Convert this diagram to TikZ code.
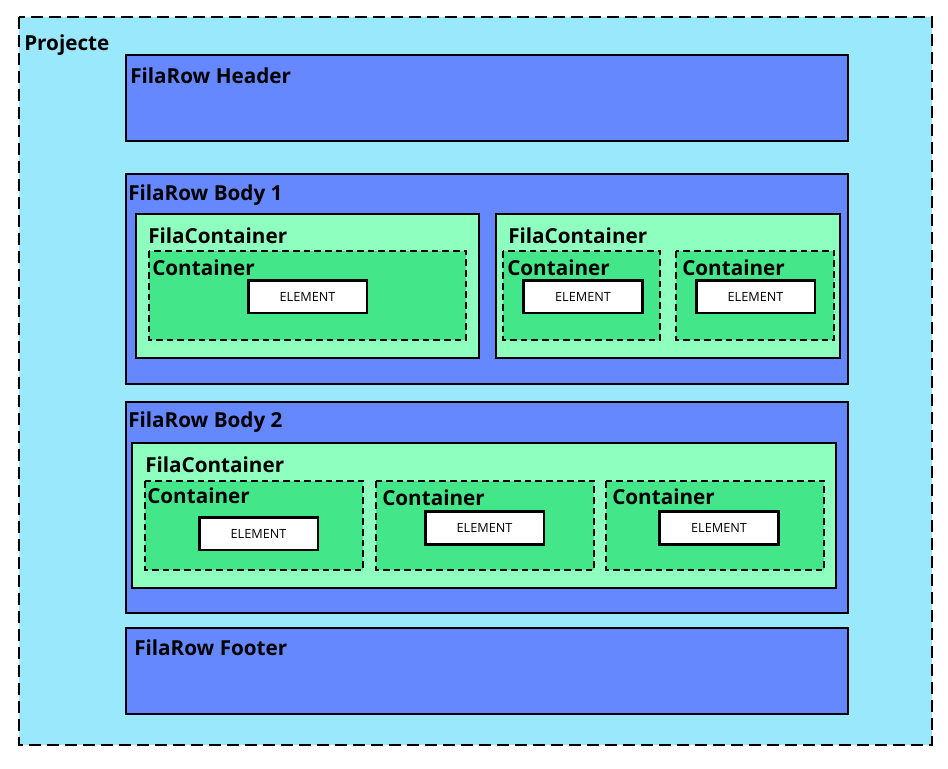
\documentclass[tikz,border=0pt]{standalone}
\usepackage{fontspec}
\setmainfont{Open Sans}
\definecolor{projCyan}{HTML}{99E8FC}
\definecolor{rowBlue}{HTML}{6688FF}
\definecolor{filaGreen}{HTML}{8FFFBF}
\definecolor{contGreen}{HTML}{44E68A}
\newcommand{\rowLeft}{126}
\newcommand{\rowRight}{848}
\newcommand{\boxTitleSty}[1]{\fontsize{15.5}{18}\selectfont\bfseries #1}
\newcommand{\elemText}{\fontsize{9.5}{11}\selectfont ELEMENT}
\tikzset{
  projBox/.style={draw, line width=1.9pt, fill=projCyan, dash pattern=on 9pt off 4.5pt},
  rowBox/.style={draw, line width=2.2pt, fill=rowBlue},
  filaBox/.style={draw, line width=2.2pt, fill=filaGreen},
  contBox/.style={draw, line width=2pt, fill=contGreen, dash pattern=on 5pt off 3pt},
  elemBox/.style={draw, line width=2pt, fill=white, minimum width=89pt, minimum height=24.5pt, inner sep=0pt},
  boxTitle/.style={anchor=base west, inner sep=0pt}
}
\begin{document}
\begin{tikzpicture}[x=0.75pt,y=-0.75pt]
	\useasboundingbox (0,0) rectangle (948,768);

	% project
	\draw[projBox] (19,17) rectangle (932,745);
	\node[boxTitle] (projLbl) at (24,50) {\boxTitleSty{Projecte}};

	% header
	\draw[rowBox] (\rowLeft,55) rectangle (\rowRight,141);
	\node[boxTitle] (headerLbl) at (130,83) {\boxTitleSty{FilaRow Header}};

	% body 1
	\draw[rowBox] (\rowLeft,174) rectangle (\rowRight,384);
	\node[boxTitle] (bodyOneLbl) at (128,200) {\boxTitleSty{FilaRow Body 1}};

	% body 1 - left fila
	\draw[filaBox] (136,214) rectangle (479,358);
	\node[boxTitle] (filaOneLbl) at (148,243) {\boxTitleSty{FilaContainer}};
	\draw[contBox] (149,251) rectangle (466,340);
	\node[boxTitle] (contOneLbl) at (152,275) {\boxTitleSty{Container}};
	\node[elemBox] (elemOne) at (307.5,296.5) {\elemText};

	% body 1 - right fila
	\draw[filaBox] (496,214) rectangle (840,358);
	\node[boxTitle] (filaTwoLbl) at (508,243) {\boxTitleSty{FilaContainer}};
	\draw[contBox] (503,251) rectangle (660,340);
	\node[boxTitle] (contTwoLbl) at (507,275) {\boxTitleSty{Container}};
	\node[elemBox] (elemTwo) at (583,296.5) {\elemText};
	\draw[contBox] (676,251) rectangle (834,340);
	\node[boxTitle] (contThreeLbl) at (682,275) {\boxTitleSty{Container}};
	\node[elemBox] (elemThree) at (755.5,296.5) {\elemText};

	% body 2
	\draw[rowBox] (\rowLeft,402) rectangle (\rowRight,613);
	\node[boxTitle] (bodyTwoLbl) at (128,427) {\boxTitleSty{FilaRow Body 2}};

	% body 2 - fila
	\draw[filaBox] (132,443) rectangle (836,588);
	\node[boxTitle] (filaThreeLbl) at (145,472) {\boxTitleSty{FilaContainer}};
	\draw[contBox] (145,481) rectangle (363,570);
	\node[boxTitle] (contFourLbl) at (147,503) {\boxTitleSty{Container}};
	\node[elemBox] (elemFour) at (258.5,533.5) {\elemText};
	\draw[contBox] (376,481) rectangle (594,570);
	\node[boxTitle] (contFiveLbl) at (382,505) {\boxTitleSty{Container}};
	\node[elemBox] (elemFive) at (484.5,528) {\elemText};
	\draw[contBox] (606,481) rectangle (824,570);
	\node[boxTitle] (contSixLbl) at (612,504) {\boxTitleSty{Container}};
	\node[elemBox] (elemSix) at (719,528) {\elemText};

	% footer
	\draw[rowBox] (\rowLeft,628) rectangle (\rowRight,714);
	\node[boxTitle] (footerLbl) at (134,655) {\boxTitleSty{FilaRow Footer}};

\end{tikzpicture}
\end{document}
